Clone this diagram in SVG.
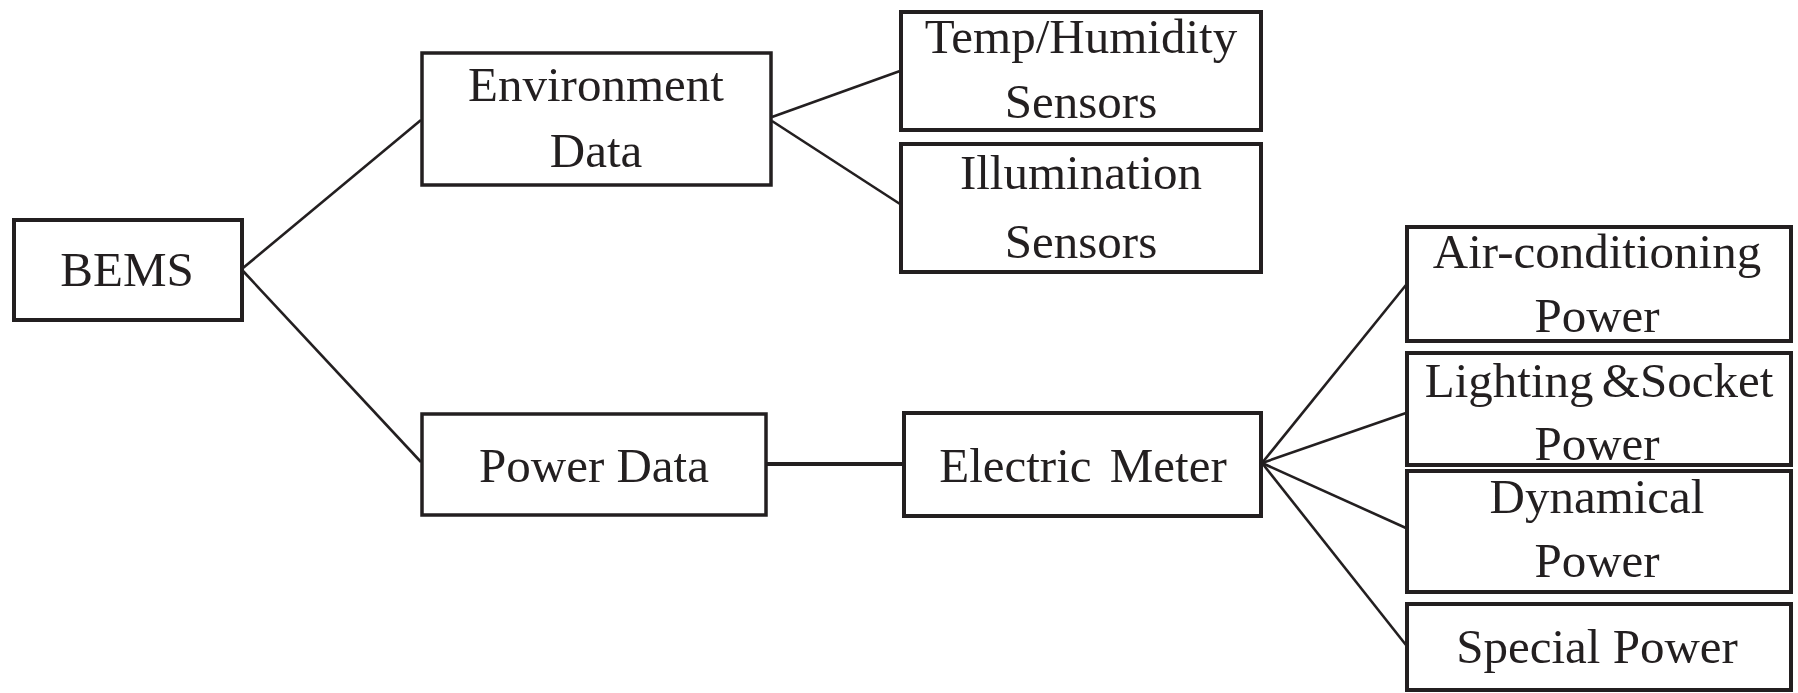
<svg xmlns="http://www.w3.org/2000/svg" width="1798" height="693" viewBox="0 0 1798 693">
  <style>
    .box { fill: #ffffff; stroke: #231f20; stroke-width: 3.5; }
    .lbl { font-family: "Liberation Serif", "Times New Roman", serif; font-size: 49px; fill: #231f20; text-anchor: middle; }
    .wire { stroke: #231f20; stroke-width: 2.6; fill: none; }
  </style>
  <rect width="1798" height="693" fill="#ffffff"/>

  <!-- tree connectors -->
  <g id="connectors">
    <line class="wire" x1="243" y1="268" x2="421" y2="120"/>
    <line class="wire" x1="243" y1="271" x2="421" y2="462"/>
    <line class="wire" x1="772" y1="117" x2="900" y2="71"/>
    <line class="wire" x1="772" y1="121" x2="900" y2="204"/>
    <line class="wire" x1="766" y1="464" x2="903" y2="464" style="stroke-width:4"/>
    <line class="wire" x1="1262" y1="463" x2="1406" y2="285"/>
    <line class="wire" x1="1262" y1="463" x2="1406" y2="413"/>
    <line class="wire" x1="1262" y1="463" x2="1406" y2="528"/>
    <line class="wire" x1="1262" y1="463" x2="1406" y2="645"/>
  </g>

  <g id="bems">
    <rect class="box" x="14" y="220" width="228" height="100" style="stroke-width:4"/>
    <text class="lbl" x="127" y="286">BEMS</text>
  </g>

  <g id="environment-data">
    <rect class="box" x="422" y="53" width="349" height="132"/>
    <text class="lbl" x="596" y="101">Environment</text>
    <text class="lbl" x="596" y="167">Data</text>
  </g>

  <g id="power-data">
    <rect class="box" x="422" y="414" width="344" height="101"/>
    <text class="lbl" x="594" y="482">Power Data</text>
  </g>

  <g id="temp-humidity">
    <rect class="box" x="901" y="12" width="360" height="118" style="stroke-width:4"/>
    <text class="lbl" x="1081" y="53">Temp/Humidity</text>
    <text class="lbl" x="1081" y="118">Sensors</text>
  </g>

  <g id="illumination">
    <rect class="box" x="901" y="144" width="360" height="128" style="stroke-width:4"/>
    <text class="lbl" x="1081" y="189">Illumination</text>
    <text class="lbl" x="1081" y="258">Sensors</text>
  </g>

  <g id="electric-meter">
    <rect class="box" x="904" y="413" width="357" height="103" style="stroke-width:4"/>
    <text class="lbl" x="1083" y="482" style="word-spacing:6px">Electric Meter</text>
  </g>

  <g id="air-conditioning">
    <rect class="box" x="1407" y="227" width="384" height="114" style="stroke-width:4"/>
    <text class="lbl" x="1597" y="268">Air-conditioning</text>
    <text class="lbl" x="1597" y="332">Power</text>
  </g>

  <g id="lighting-socket">
    <rect class="box" x="1407" y="353" width="384" height="112" style="stroke-width:4"/>
    <text class="lbl" x="1599" y="397" style="word-spacing:-4px">Lighting &amp;Socket</text>
    <text class="lbl" x="1597" y="460">Power</text>
  </g>

  <g id="dynamical">
    <rect class="box" x="1407" y="471" width="384" height="121" style="stroke-width:4"/>
    <text class="lbl" x="1597" y="513">Dynamical</text>
    <text class="lbl" x="1597" y="577">Power</text>
  </g>

  <g id="special">
    <rect class="box" x="1407" y="604" width="384" height="86" style="stroke-width:4"/>
    <text class="lbl" x="1597" y="663">Special Power</text>
  </g>
</svg>
